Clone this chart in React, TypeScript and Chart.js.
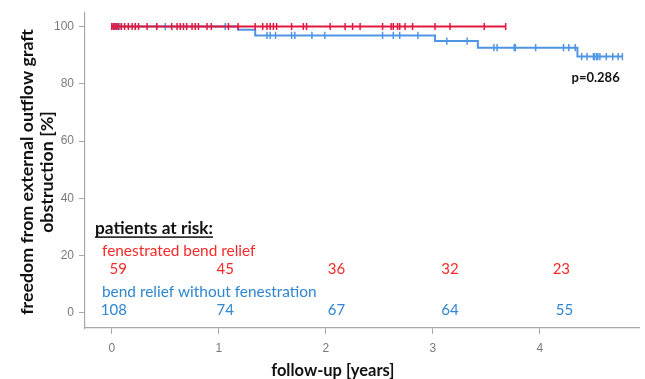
import React, { useEffect, useRef } from 'react';
import { Chart, registerables } from 'chart.js';
Chart.register(...registerables);

// ---- data ----
const xTicks = [0, 1, 2, 3, 4];
const yTicks = [0, 20, 40, 60, 80, 100];

const fenTimes = [0, 3.68];
const fenSurv = [100, 100];
const fenCensor = [0.0, 0.015, 0.03, 0.047, 0.06, 0.09, 0.12, 0.155, 0.19, 0.22, 0.25, 0.33, 0.42, 0.56, 0.61, 0.64, 0.67, 0.7, 0.75, 0.78, 0.81, 0.89, 0.93, 1.09, 1.18, 1.34, 1.41, 1.45, 1.48, 1.51, 1.54, 1.68, 1.79, 1.82, 2.04, 2.18, 2.25, 2.32, 2.53, 2.61, 2.63, 2.67, 2.69, 2.74, 2.81, 3.02, 3.16, 3.48, 3.68];

const noFenTimes = [0, 1.18, 1.34, 3.02, 3.42, 4.35, 4.77];
const noFenSurv = [100, 98.9, 96.9, 94.9, 92.6, 89.5, 89.5];
const noFenCensor = [0.015, 0.03, 0.047, 0.075, 0.22, 0.42, 0.5, 1.06, 1.45, 1.48, 1.53, 1.68, 1.71, 1.87, 1.99, 2.53, 2.63, 2.69, 2.86, 3.13, 3.32, 3.57, 3.6, 3.76, 3.77, 3.96, 4.22, 4.27, 4.33, 4.39, 4.44, 4.5, 4.51, 4.53, 4.54, 4.56, 4.62, 4.68, 4.73, 4.77];

const riskFen = [59, 45, 36, 32, 23];
const riskNoFen = [108, 74, 67, 64, 55];

const groupFen = 'fenestrated bend relief';
const groupNoFen = 'bend relief without fenestration';
const riskTitle = 'patients at risk:';
const pText = 'p=0.286';
const yTitle = ['freedom from external outflow graft', 'obstruction [%]'];
const xTitle = 'follow-up [years]';

const RED = '#e2193f';
const BLUE = '#4f95e3';
const RED_TXT = '#f42a2a';
const BLUE_TXT = '#2f86d1';

function survAt(times: number[], surv: number[], t: number) {
  let v = surv[0];
  for (let i = 0; i < times.length; i++) if (times[i] <= t) v = surv[i];
  return v;
}

export default function App() {
  const ref = useRef<HTMLCanvasElement>(null);
  useEffect(() => {
    document.body.style.margin = '0';
    const FONT = 'Lato, "Open Sans", sans-serif';
    const textPlugin = {
      id: 'texts',
      afterDraw(chart: any) {
        const c = chart.ctx;
        const xs = chart.scales.x;
        const ys = chart.scales.y;
        c.save();
        // y title
        c.fillStyle = '#111';
        c.font = `bold 17.8px ${FONT}`;
        c.textAlign = 'center';
        c.textBaseline = 'middle';
        c.save();
        c.translate(27, 172);
        c.rotate(-Math.PI / 2);
        c.fillText(yTitle[0], 0, 0);
        c.fillText(yTitle[1], 0, 20);
        c.restore();
        // x title
        c.font = `bold 16.5px ${FONT}`;
        c.fillText(xTitle, xs.getPixelForValue(2) + 7, 371);
        // p value
        c.font = `bold 13px ${FONT}`;
        c.fillText(pText, xs.getPixelForValue(4.52), ys.getPixelForValue(82.2));
        // at risk
        c.textAlign = 'left';
        c.font = `bold 17.3px ${FONT}`;
        const ty = ys.getPixelForValue(29.5);
        c.fillText(riskTitle, 95, ty);
        const w = c.measureText(riskTitle).width;
        c.fillRect(95, ty + 8, w, 1.5);
        c.font = `15.4px ${FONT}`;
        c.fillStyle = RED_TXT;
        c.fillText(groupFen, 102, ys.getPixelForValue(21.5));
        c.fillStyle = BLUE_TXT;
        c.fillText(groupNoFen, 102, ys.getPixelForValue(7.2));
        c.textAlign = 'center';
        c.font = `15px ${FONT}`;
        const offR = [0.06, 1.06, 2.1, 3.16, 4.2];
        const offB = [0.02, 1.06, 2.1, 3.16, 4.23];
        c.fillStyle = RED_TXT;
        riskFen.forEach((n, i) => c.fillText(String(n), xs.getPixelForValue(offR[i]), ys.getPixelForValue(15.2)));
        c.fillStyle = BLUE_TXT;
        riskNoFen.forEach((n, i) => c.fillText(String(n), xs.getPixelForValue(offB[i]), ys.getPixelForValue(0.9)));
        c.restore();
      },
    };
    const axisColor = '#a8a8a8';
    const chart = new Chart(ref.current as HTMLCanvasElement, {
      type: 'scatter',
      data: {
        datasets: [
          {
            data: fenCensor.map((t) => ({ x: t, y: survAt(fenTimes, fenSurv, t) })),
            showLine: false,
            pointStyle: 'line',
            rotation: 90,
            pointRadius: 3.6,
            pointBorderWidth: 1.5,
            borderColor: RED,
            backgroundColor: RED,
          } as any,
          {
            data: fenTimes.map((t, i) => ({ x: t, y: fenSurv[i] })),
            showLine: true,
            stepped: true,
            pointRadius: 0,
            borderWidth: 2,
            borderColor: RED,
          } as any,
          {
            data: noFenCensor.map((t) => ({ x: t, y: survAt(noFenTimes, noFenSurv, t) })),
            showLine: false,
            pointStyle: 'line',
            rotation: 90,
            pointRadius: 3.6,
            pointBorderWidth: 1.5,
            borderColor: BLUE,
            backgroundColor: BLUE,
          } as any,
          {
            data: noFenTimes.map((t, i) => ({ x: t, y: noFenSurv[i] })),
            showLine: true,
            stepped: true,
            pointRadius: 0,
            borderWidth: 2,
            borderColor: BLUE,
          } as any,
        ],
      },
      options: {
        animation: false,
        responsive: true,
        maintainAspectRatio: false,
        layout: { padding: { top: 12, right: 5, left: 0, bottom: 0 } },
        plugins: { legend: { display: false }, tooltip: { enabled: false } },
        events: [],
        scales: {
          x: {
            type: 'linear',
            min: -0.25,
            max: 4.93,
            afterBuildTicks: (s: any) => { s.ticks = xTicks.map((v) => ({ value: v })); },
            afterFit: (s: any) => { s.height = 51; },
            ticks: { color: '#7a7a7a', font: { family: '"Liberation Sans", Arial, sans-serif', size: 12 }, padding: 7 },
            grid: { drawOnChartArea: false, drawTicks: true, tickLength: 6, color: axisColor },
            border: { display: true, color: axisColor, width: 1.2 },
          },
          y: {
            type: 'linear',
            min: -5.3,
            max: 105,
            afterBuildTicks: (s: any) => { s.ticks = yTicks.map((v) => ({ value: v })); },
            afterFit: (s: any) => { s.width = 85; },
            ticks: { color: '#7a7a7a', font: { family: '"Liberation Sans", Arial, sans-serif', size: 12 }, padding: 5 },
            grid: { drawOnChartArea: false, drawTicks: true, tickLength: 6, color: axisColor },
            border: { display: true, color: axisColor, width: 1.2 },
          },
        },
      } as any,
      plugins: [textPlugin],
    });
    return () => chart.destroy();
  }, []);
  return (
    <div style={{ position: 'relative', width: 645, height: 379 }}>
      <canvas ref={ref} />
    </div>
  );
}
